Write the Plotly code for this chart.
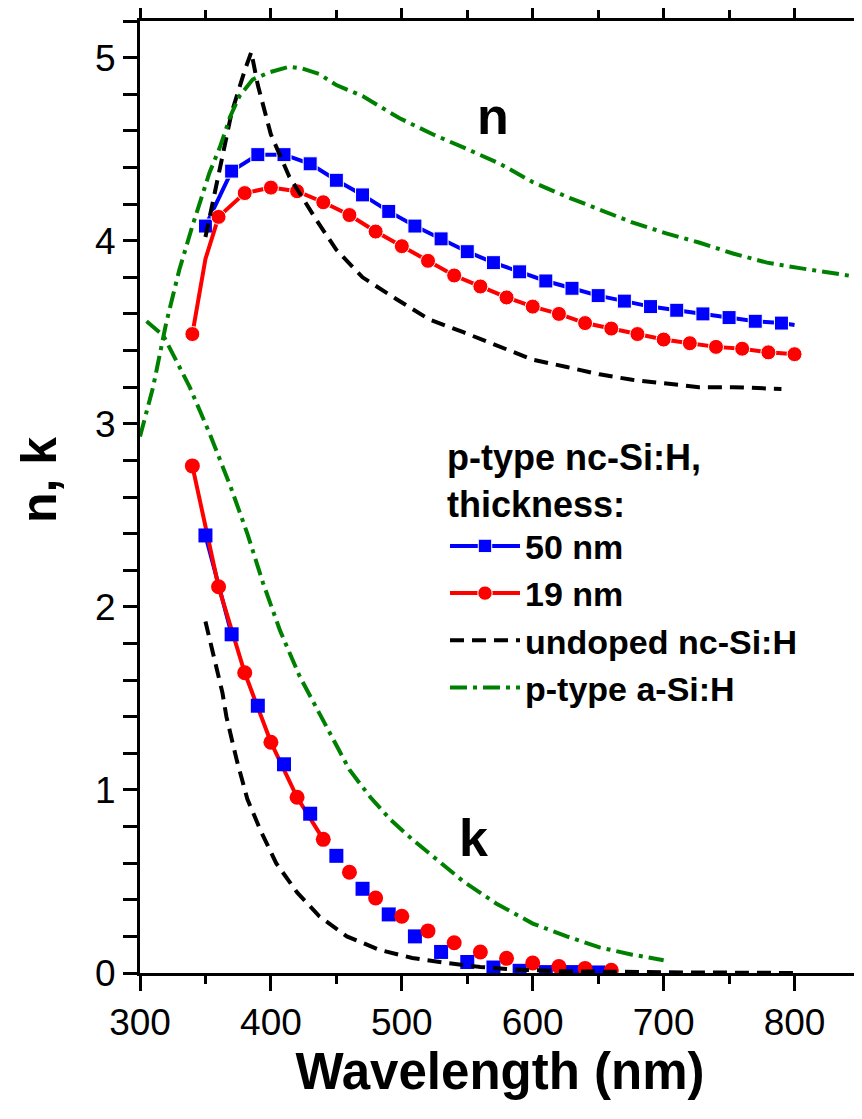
import plotly.graph_objects as go

# ---- data ----
# 50 nm p-type nc-Si:H : n
wl_n50 = [350, 370, 390, 410, 430, 450, 470, 490, 510, 530, 550, 570, 590, 610, 630,
          650, 670, 690, 710, 730, 750, 770, 790, 800]
n50 = [4.08, 4.38, 4.47, 4.47, 4.42, 4.33, 4.25, 4.16, 4.08, 4.01, 3.94, 3.88, 3.83, 3.78,
       3.74, 3.70, 3.67, 3.64, 3.62, 3.60, 3.58, 3.56, 3.55, 3.54]
# 50 nm : k
wl_k50 = [350, 370, 390, 410, 430, 450, 470, 490, 510, 530, 550, 570, 590, 610, 630, 650]
k50 = [2.39, 1.85, 1.46, 1.14, 0.87, 0.64, 0.46, 0.32, 0.20, 0.115, 0.06, 0.03, 0.012,
       0.005, 0.005, 0.003]

# 19 nm p-type nc-Si:H : n
wl_n19 = [340, 350, 360, 380, 400, 420, 440, 460, 480, 500, 520, 540, 560, 580, 600, 620,
          640, 660, 680, 700, 720, 740, 760, 780, 800]
n19 = [3.49, 3.90, 4.13, 4.26, 4.29, 4.27, 4.21, 4.14, 4.05, 3.97, 3.89, 3.81, 3.75, 3.69,
       3.64, 3.60, 3.55, 3.52, 3.49, 3.46, 3.44, 3.42, 3.41, 3.39, 3.38]
# 19 nm : k
wl_k19 = [340, 360, 380, 400, 420, 440, 460, 480, 500, 520, 540, 560, 580, 600, 620, 640, 660]
k19 = [2.77, 2.11, 1.64, 1.26, 0.96, 0.73, 0.55, 0.41, 0.31, 0.23, 0.165, 0.115, 0.08,
       0.055, 0.035, 0.025, 0.015]

# undoped nc-Si:H
wl_nu = [350, 360, 370, 380, 385, 390, 400, 414, 435, 450, 470, 496, 521, 547, 572, 600,
         626, 651, 676, 702, 727, 753, 790]
nu = [4.02, 4.35, 4.70, 4.93, 5.03, 4.85, 4.58, 4.35, 4.11, 3.95, 3.80, 3.68, 3.57, 3.50,
      3.43, 3.35, 3.31, 3.27, 3.24, 3.22, 3.20, 3.20, 3.19]
wl_ku = [350, 357, 363, 366, 374, 382, 392, 404, 420, 437, 458, 483, 508, 534, 560, 585,
         620, 700, 800]
ku = [1.92, 1.70, 1.53, 1.40, 1.16, 0.95, 0.78, 0.60, 0.44, 0.31, 0.20, 0.126, 0.082,
      0.055, 0.033, 0.02, 0.01, 0.004, 0.0]

# p-type a-Si:H
wl_na = [300, 310, 320, 330, 340, 353, 361, 369, 376, 386, 399, 414, 424, 437, 450, 470,
         498, 524, 550, 575, 600, 626, 651, 676, 702, 727, 753, 779, 804, 850]
na = [2.93, 3.20, 3.55, 3.84, 4.08, 4.37, 4.51, 4.68, 4.79, 4.88, 4.92, 4.95, 4.94, 4.91,
      4.85, 4.79, 4.67, 4.58, 4.50, 4.42, 4.32, 4.24, 4.17, 4.10, 4.04, 3.99, 3.93, 3.88,
      3.85, 3.80]
wl_ka = [305, 318, 338, 353, 369, 382, 394, 407, 422, 445, 460, 476, 491, 508, 527, 547,
         572, 600, 626, 651, 676, 700]
ka = [3.56, 3.48, 3.20, 2.95, 2.66, 2.40, 2.13, 1.87, 1.62, 1.31, 1.11, 0.96, 0.84, 0.73,
      0.62, 0.50, 0.38, 0.27, 0.20, 0.14, 0.10, 0.07]

x_ticks = [300, 400, 500, 600, 700, 800]
y_ticks = [0, 1, 2, 3, 4, 5]

BLUE = "#0000ff"
RED = "#ff0000"
GREEN = "#008000"
FONT = "Liberation Sans"
DASH = "14px,8px"
DASHDOT = "17px,6px,4px,6px"

fig = go.Figure()

# blue 50 nm
sz50 = [14] * (len(wl_n50) - 1) + [0]
fig.add_trace(go.Scatter(x=wl_n50, y=n50, mode="lines+markers", name="50 nm",
                         line=dict(color=BLUE, width=4),
                         marker=dict(symbol="square", size=sz50, color=BLUE, opacity=1),
                         legendrank=1))
fig.add_trace(go.Scatter(x=wl_k50[:2], y=k50[:2], mode="lines", showlegend=False,
                         line=dict(color=BLUE, width=4)))
# red 19 nm
sz19 = [15 if w != 350 else 0 for w in wl_n19]
fig.add_trace(go.Scatter(x=wl_n19, y=n19, mode="lines+markers", name="19 nm",
                         line=dict(color=RED, width=4),
                         marker=dict(symbol="circle", size=sz19, color=RED, opacity=1),
                         legendrank=2))
fig.add_trace(go.Scatter(x=wl_k19[:6], y=k19[:6], mode="lines", showlegend=False,
                         line=dict(color=RED, width=4)))
fig.add_trace(go.Scatter(x=wl_k50, y=k50, mode="markers", showlegend=False,
                         marker=dict(symbol="square", size=14, color=BLUE)))
fig.add_trace(go.Scatter(x=wl_k19, y=k19, mode="markers", showlegend=False,
                         marker=dict(symbol="circle", size=15, color=RED)))
# undoped
fig.add_trace(go.Scatter(x=wl_nu, y=nu, mode="lines", name="undoped nc-Si:H",
                         line=dict(color="black", width=4, dash=DASH),
                         legendrank=3))
fig.add_trace(go.Scatter(x=wl_ku, y=ku, mode="lines", showlegend=False,
                         line=dict(color="black", width=4, dash=DASH)))
# p-type a-Si:H
fig.add_trace(go.Scatter(x=wl_na, y=na, mode="lines", name="p-type a-Si:H",
                         line=dict(color=GREEN, width=4, dash=DASHDOT),
                         legendrank=4))
fig.add_trace(go.Scatter(x=wl_ka, y=ka, mode="lines", showlegend=False,
                         line=dict(color=GREEN, width=4, dash=DASHDOT)))

axis_common = dict(showgrid=False, zeroline=False, showline=True, linecolor="black",
                   linewidth=3, mirror="ticks", ticks="outside", tickcolor="black",
                   tickwidth=2.5, automargin=False,
                   tickfont=dict(family=FONT, size=37, color="black"))

fig.update_xaxes(range=[300, 850], tickvals=x_ticks, ticklen=15,
                 minor=dict(dtick=50, ticklen=8, tickwidth=2.5, tickcolor="black", ticks="outside"),
                 title=dict(text="Wavelength (nm)", standoff=10,
                            font=dict(family=FONT, size=51, color="black", weight="bold")),
                 **axis_common)
fig.update_yaxes(range=[0, 5.2], tickvals=y_ticks, ticklen=14,
                 minor=dict(dtick=0.2, ticklen=14, tickwidth=2.5, tickcolor="black", ticks="outside"),
                 **axis_common)

# y-axis title placed as a rotated annotation (it sits close to the page edge)
fig.add_annotation(xref="paper", yref="paper", x=-0.140, y=0.518, text="n, k",
                   textangle=-90, showarrow=False, xanchor="center", yanchor="middle",
                   borderpad=0,
                   font=dict(family=FONT, size=50, color="black", weight="bold"))

fig.add_annotation(x=570, y=4.68, text="n", showarrow=False,
                   font=dict(family=FONT, size=52, color="black", weight="bold"))
fig.add_annotation(x=555, y=0.74, text="k", showarrow=False,
                   font=dict(family=FONT, size=52, color="black", weight="bold"))

# page body has an 8px default margin, so the plot is offset accordingly
fig.update_layout(
    width=862, height=1119,
    margin=dict(l=132, r=10, t=13, b=154),
    plot_bgcolor="white", paper_bgcolor="white",
    legend=dict(x=0.4236, y=0.577, xanchor="left", yanchor="top",
                bgcolor="rgba(0,0,0,0)", borderwidth=0, itemwidth=70,
                title=dict(text="p-type nc-Si:H,<br>thickness:",
                           font=dict(family=FONT, size=36, color="black", weight="bold")),
                font=dict(family=FONT, size=34, color="black", weight="bold"),
                tracegroupgap=0),
)

fig.write_html("out.html")
